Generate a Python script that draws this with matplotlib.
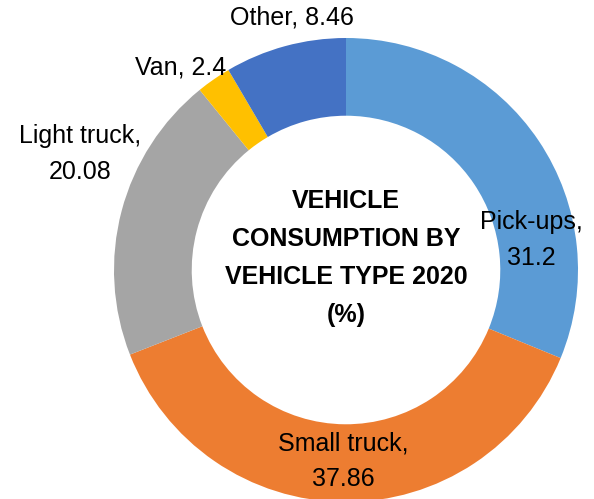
import matplotlib.pyplot as plt

categories = ['Pick-ups', 'Small truck', 'Light truck', 'Van', 'Other']
values = [31.2, 37.86, 20.08, 2.4, 8.46]
colors = ['#5B9BD5', '#ED7D31', '#A5A5A5', '#FFC000', '#4472C4']

# label text layout (pixel centre of each label, line break or not)
label_px = [(531, 240), (343, 461), (80, 154), (181, 68), (292, 18)]
label_split = [True, True, True, False, False]

W, H = 594, 499
CX, CY, R = 346, 270, 232

plt.rcParams['font.family'] = ['Liberation Sans', 'DejaVu Sans']

fig = plt.figure(figsize=(W / 100, H / 100), dpi=100)
ax = fig.add_axes([0, 0, 1, 1])

ax.pie(values, colors=colors, startangle=90, counterclock=False,
       radius=1, wedgeprops=dict(width=0.335, edgecolor='none'))

for cat, val, (px, py), split in zip(categories, values, label_px, label_split):
    sep = ',\n' if split else ', '
    ax.text((px - CX) / R, (CY - py) / R, f'{cat}{sep}{val:g}',
            ha='center', va='center', fontsize=18, linespacing=1.6)

ax.text(0, (CY - 258) / R, 'VEHICLE\nCONSUMPTION BY\nVEHICLE TYPE 2020\n(%)',
        ha='center', va='center', fontsize=18, fontweight='bold', linespacing=1.72)

ax.set_xlim(-CX / R, (W - CX) / R)
ax.set_ylim(-(H - CY) / R, CY / R)
ax.axis('off')

fig.savefig('out.png', dpi=100)
